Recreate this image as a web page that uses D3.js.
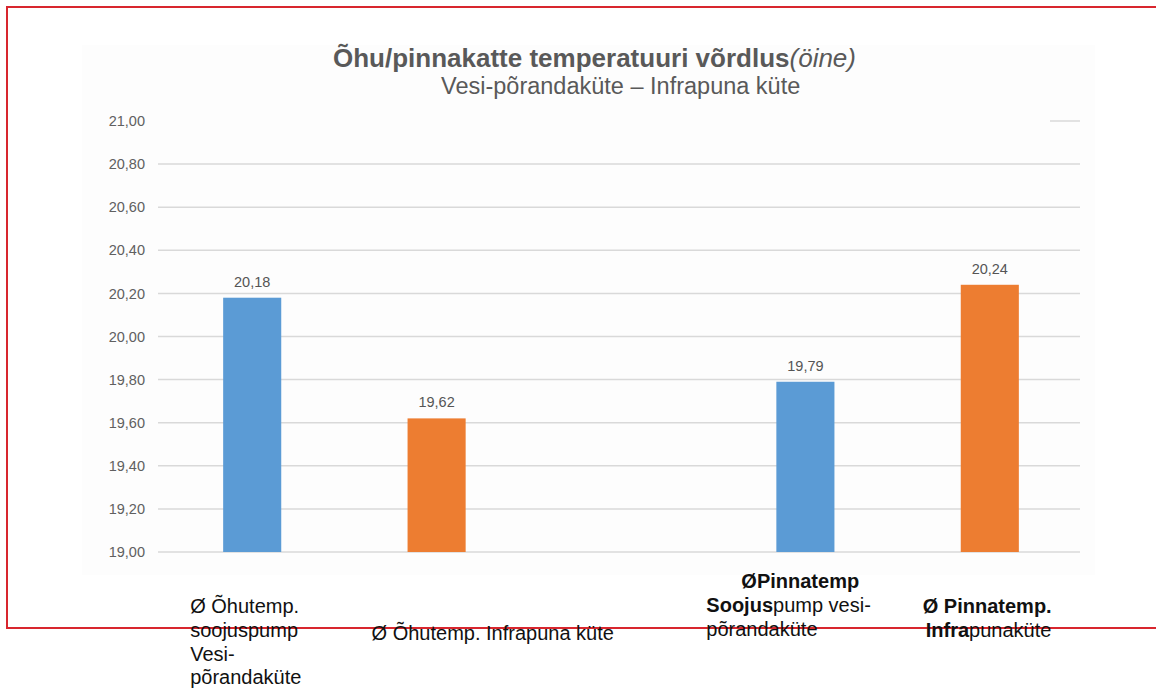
<!DOCTYPE html>
<html lang="et">
  <head>
    <meta charset="UTF-8" />
    <script src="https://cdn.jsdelivr.net/npm/d3@7"></script>
    <style>
      * {
        margin: 0;
        padding: 0;
      }
      body {
        background: #fff;
      }
      #container svg {
        display: block;
      }
    </style>
    <title>Õhu/pinnakatte temperatuuri võrdlus</title>
  </head>
  <body>
    <div id="container"></div>
  </body>
  <script>
    // categories (the middle slot is empty in the original chart)
    const categories = ['ohuSoojus', 'ohuInfra', 'gap', 'pinnaSoojus', 'pinnaInfra'];
    const values = [20.18, 19.62, null, 19.79, 20.24];
    const heating = ['soojuspump', 'infrapuna', null, 'soojuspump', 'infrapuna'];
    const yTicks = [19.0, 19.2, 19.4, 19.6, 19.8, 20.0, 20.2, 20.4, 20.6, 20.8, 21.0];

    // category captions under the chart: lines of [text, bold] pieces
    const captions = [
      [[['Ø Õhutemp.', false]], [['soojuspump', false]], [['Vesi-', false]], [['põrandaküte', false]]],
      [[['Ø Õhutemp. Infrapuna küte', false]]],
      [],
      [[['ØPinnatemp', true]], [['Soojus', true], ['pump vesi-', false]], [['põrandaküte', false]]],
      [[['Ø Pinnatemp.', true]], [['Infra', true], ['punaküte', false]]],
    ];

    const colorMap = { soojuspump: '#5b9bd5', infrapuna: '#ed7d31' };

    const width = 1156;
    const height = 690;
    const plot = { left: 158, right: 1080, top: 121, bottom: 552 };
    const font = 'Liberation Sans, Arial, sans-serif';

    const svg = d3
      .select('#container')
      .append('svg')
      .attr('width', width)
      .attr('height', height);

    // faint chart background (pasted image look)
    svg
      .append('rect')
      .attr('x', 82)
      .attr('y', 45)
      .attr('width', 1013)
      .attr('height', 530)
      .attr('fill', '#fdfdfd');

    const x = d3
      .scaleBand()
      .domain(categories)
      .range([plot.left + 2, plot.right + 2])
      .paddingInner(0.685)
      .paddingOuter(0.3425);

    const y = d3.scaleLinear().domain([19, 21]).range([plot.bottom, plot.top]);

    const fmt = (v) => d3.format('.2f')(v).replace('.', ',');

    // gridlines
    svg
      .append('g')
      .selectAll('line')
      .data(yTicks)
      .join('line')
      .attr('x1', (d) => (d === 21 ? 1050 : plot.left))
      .attr('x2', plot.right)
      .attr('y1', (d) => y(d))
      .attr('y2', (d) => y(d))
      .attr('stroke', '#d9d9d9')
      .attr('stroke-width', 1.5);

    // y axis labels
    const yAxis = d3
      .axisLeft(y)
      .tickValues(yTicks)
      .tickFormat(fmt)
      .tickSize(0)
      .tickPadding(13);
    svg
      .append('g')
      .attr('transform', `translate(${plot.left},0)`)
      .call(yAxis)
      .call((g) => g.select('.domain').remove())
      .call((g) =>
        g
          .selectAll('text')
          .attr('font-family', font)
          .attr('font-size', 14.5)
          .attr('fill', '#606060')
      );

    const barData = categories
      .map((c, i) => ({ c, v: values[i], h: heating[i] }))
      .filter((d) => d.v !== null);

    // bars
    svg
      .append('g')
      .selectAll('rect')
      .data(barData)
      .join('rect')
      .attr('x', (d) => x(d.c))
      .attr('width', x.bandwidth())
      .attr('y', (d) => y(d.v))
      .attr('height', (d) => y(19) - y(d.v))
      .attr('fill', (d) => colorMap[d.h]);

    // value labels
    svg
      .append('g')
      .selectAll('text')
      .data(barData)
      .join('text')
      .attr('x', (d) => x(d.c) + x.bandwidth() / 2)
      .attr('y', (d) => y(d.v) - 11)
      .attr('text-anchor', 'middle')
      .attr('font-family', font)
      .attr('font-size', 14.5)
      .attr('fill', '#555')
      .text((d) => fmt(d.v));

    // title
    const title = svg
      .append('text')
      .attr('x', 333)
      .attr('y', 67)
      .attr('font-family', font)
      .attr('font-size', 26)
      .attr('fill', '#595959');
    title.append('tspan').attr('font-weight', 'bold').text('Õhu/pinnakatte temperatuuri võrdlus');
    title.append('tspan').attr('font-style', 'italic').text('(öine)');

    svg
      .append('text')
      .attr('x', 441)
      .attr('y', 94)
      .attr('font-family', font)
      .attr('font-size', 23.5)
      .attr('fill', '#595959')
      .text('Vesi-põrandaküte – Infrapuna küte');

    // red frame
    svg
      .append('path')
      .attr('d', `M${width},7H7V628H${width}`)
      .attr('fill', 'none')
      .attr('stroke', '#d8262e')
      .attr('stroke-width', 2);

    // captions: offset from band start, first baseline, per-line x shift
    const captionPos = [
      { dx: -33, y: 613, shift: [0, 0, 0, 0] },
      { dx: -36, y: 640, shift: [0] },
      { dx: 0, y: 0, shift: [] },
      { dx: -70, y: 588, shift: [35, 0, 0] },
      { dx: -38, y: 613, shift: [0, 3] },
    ];
    const lineH = 23.8;

    captions.forEach((lines, i) => {
      const pos = captionPos[i];
      lines.forEach((pieces, j) => {
        const t = svg
          .append('text')
          .attr('x', x(categories[i]) + pos.dx + pos.shift[j])
          .attr('y', pos.y + j * lineH)
          .attr('font-family', font)
          .attr('font-size', 20)
          .attr('fill', '#111');
        pieces.forEach(([txt, bold]) => {
          t.append('tspan')
            .attr('font-weight', bold ? 'bold' : 'normal')
            .text(txt);
        });
      });
    });
  </script>
</html>
